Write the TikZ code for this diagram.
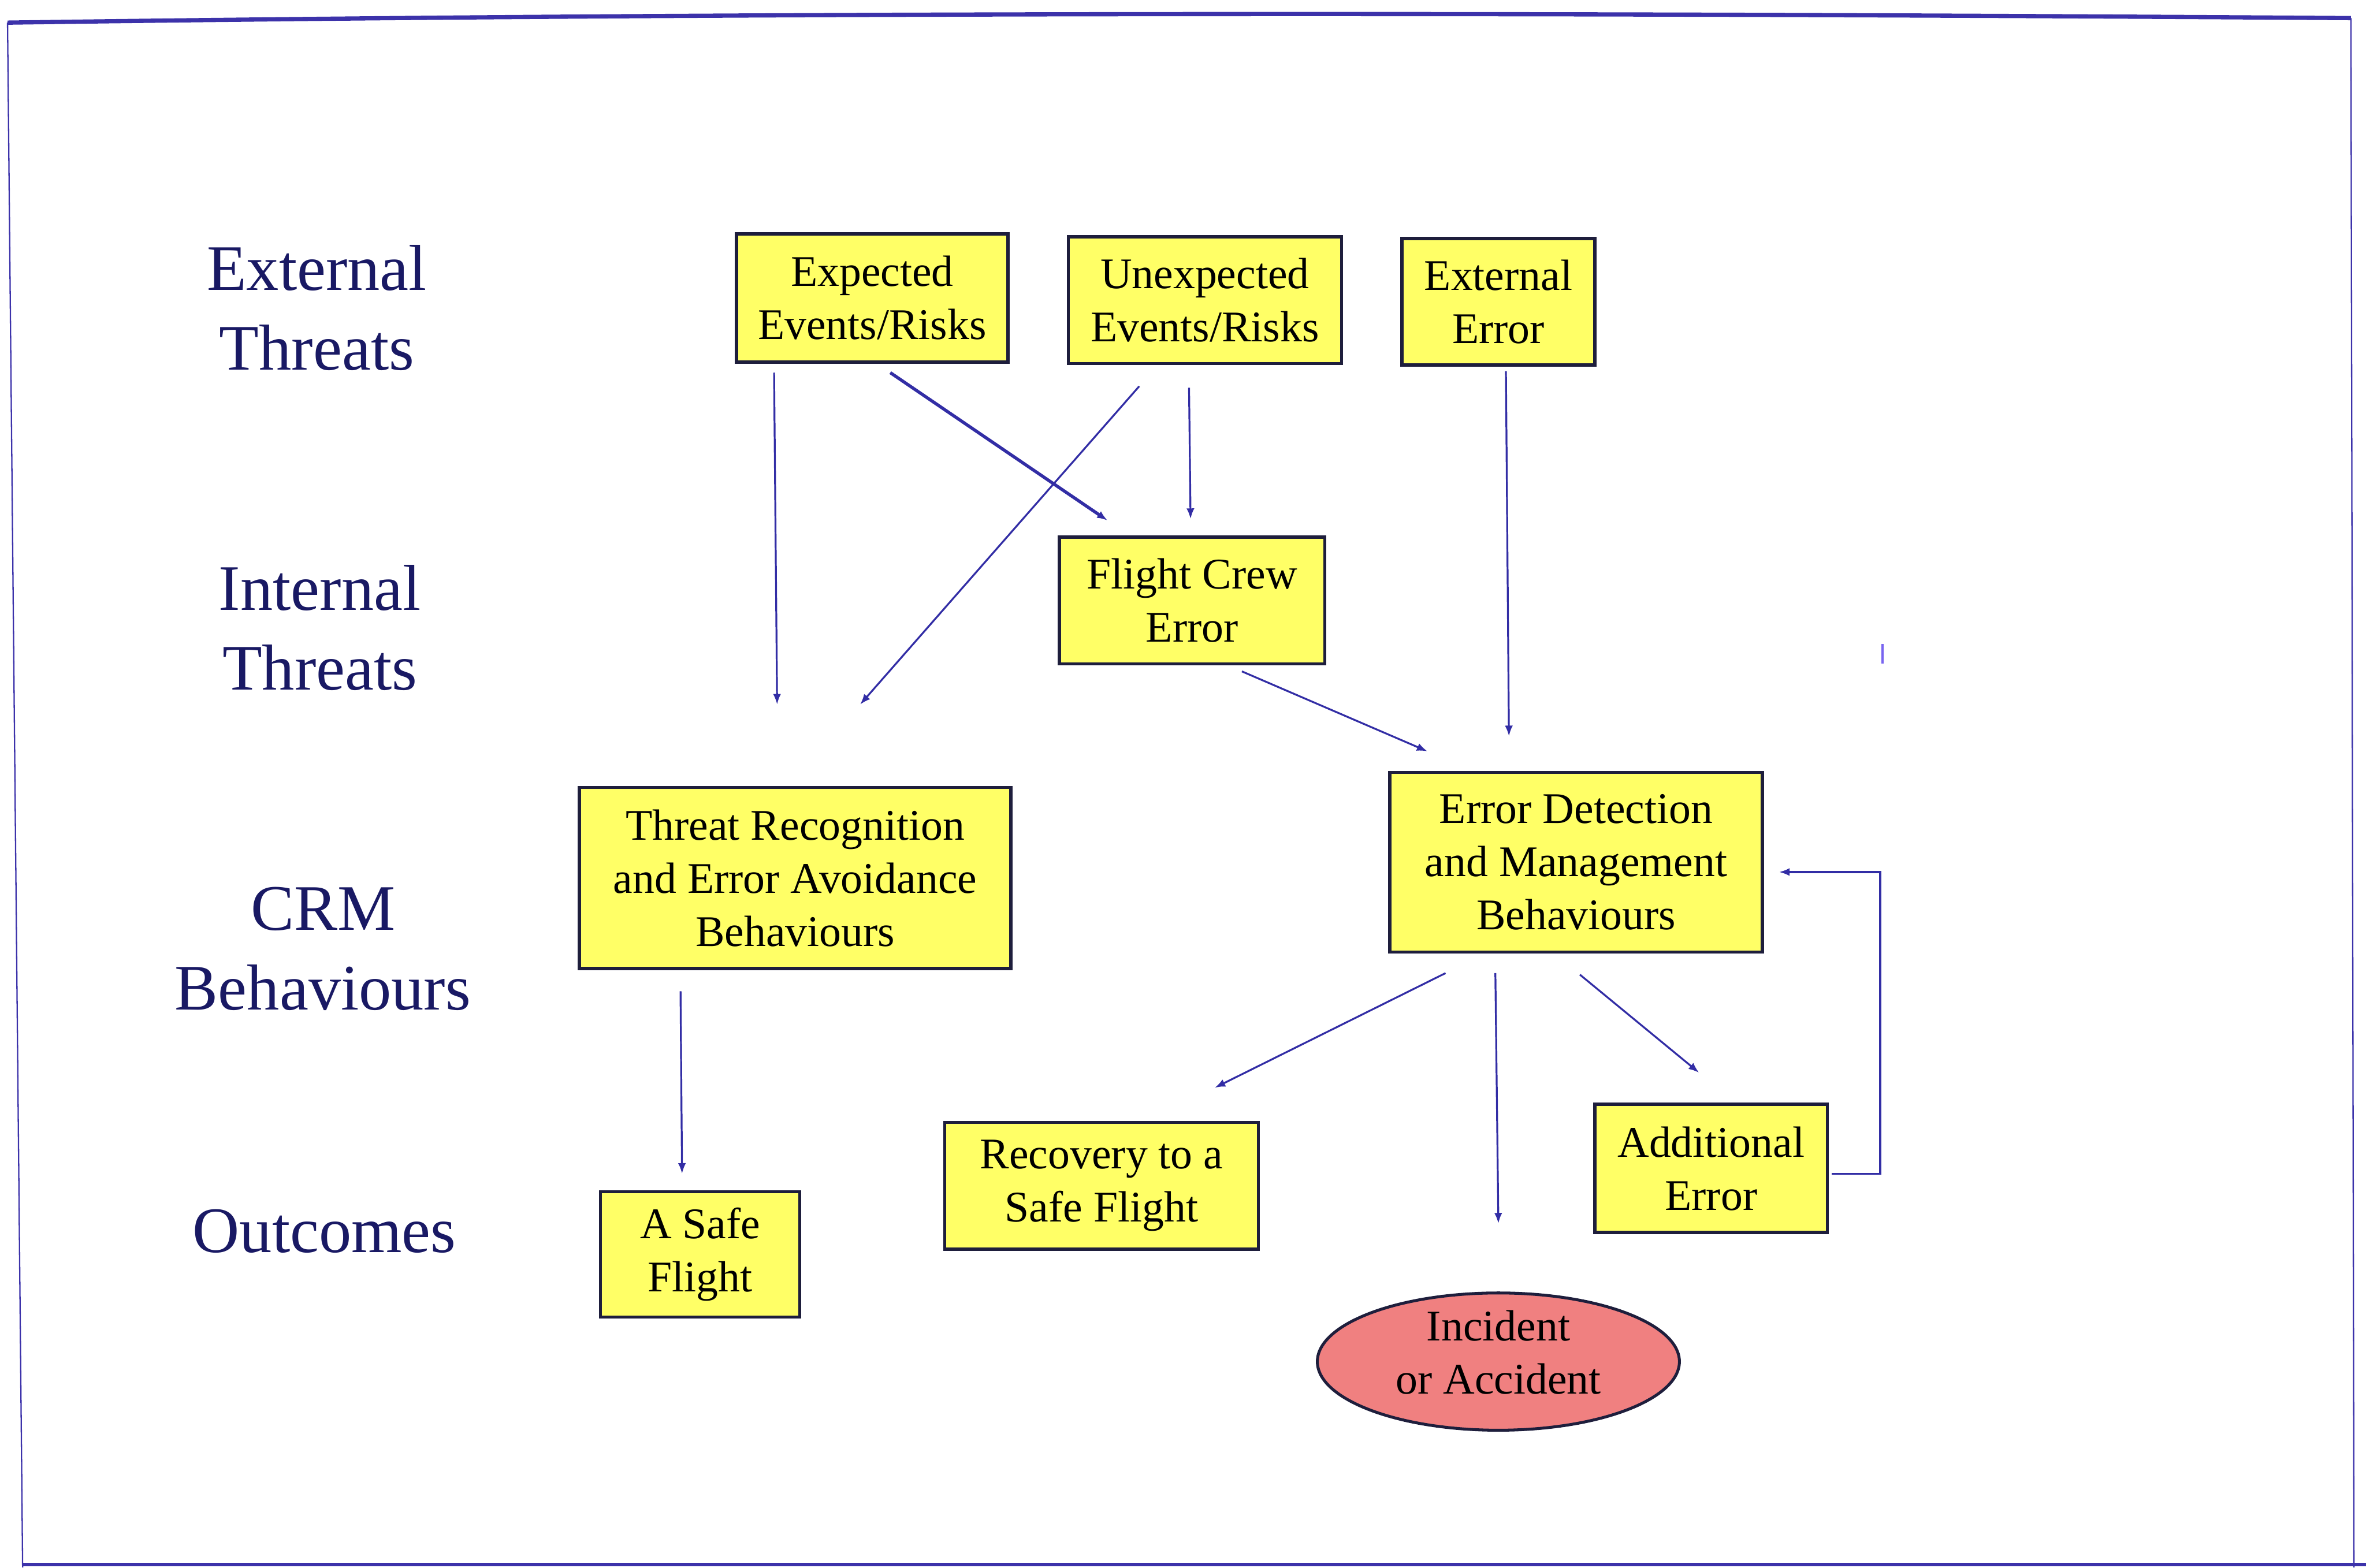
\documentclass[tikz,border=0pt]{standalone}
\usepackage{fontspec}
\setmainfont{Liberation Serif}
\usetikzlibrary{arrows.meta,shapes.geometric}
\definecolor{boxfill}{RGB}{255,255,102}
\definecolor{ovalfill}{RGB}{240,128,128}
\definecolor{linkblue}{RGB}{50,45,165}
\definecolor{labelnavy}{RGB}{25,25,100}
\definecolor{edgedark}{RGB}{30,30,60}
\definecolor{framecol}{RGB}{60,50,170}
\definecolor{tickcol}{RGB}{120,100,240}

\begin{document}
\begin{tikzpicture}[x=0.02cm,y=-0.02cm,
  box/.style={draw=edgedark, line width=1.2pt, fill=boxfill, inner sep=0pt,
    align=center, font=\fontsize{16.5}{20}\selectfont},
  oval/.style={ellipse, draw=edgedark, line width=1.1pt, fill=ovalfill, inner sep=0pt},
  ovaltext/.style={align=center, inner sep=0pt, font=\fontsize{16.5}{20}\selectfont},
  rowlabel/.style={align=center, text=labelnavy, font=\fontsize{24.5}{30}\selectfont},
  link/.style={draw=linkblue, line width=0.7pt, -{Latex[length=4pt,width=3pt]}},
  boldlink/.style={link, line width=1.2pt},
]
\useasboundingbox (0,0) rectangle (1568,1039);

% page frame
\draw[framecol, line width=1.6pt] (5,15) .. controls (500,8) and (1000,8) .. (1558,12);
\draw[framecol, line width=0.5pt] (5,15) -- (15,1039);
\draw[framecol, line width=0.5pt] (1558,12) -- (1560,1039);
\draw[framecol, line width=1.4pt] (15,1037) -- (1568,1037);

% row labels
\node[rowlabel] (lblext) at (210,204) {External\\Threats};
\node[rowlabel] (lblint) at (212,416) {Internal\\Threats};
\node[rowlabel] (lblcrm) at (214,629) {CRM\\Behaviours};
\node[rowlabel] (lblout) at (215,816) {Outcomes};

% boxes
\node[box, minimum width=3.6cm,  minimum height=1.7cm]  (exp)    at (578,197.5)  {Expected\\Events/Risks};
\node[box, minimum width=3.62cm, minimum height=1.68cm] (unexp)  at (798.5,199)  {Unexpected\\Events/Risks};
\node[box, minimum width=2.56cm, minimum height=1.68cm] (exterr) at (993,200)    {External\\Error};
\node[box, minimum width=3.52cm, minimum height=1.68cm] (fce)    at (790,398)    {Flight Crew\\Error};
\node[box, minimum width=5.72cm, minimum height=2.4cm]  (threat) at (527,582)    {Threat Recognition\\and Error Avoidance\\Behaviours};
\node[box, minimum width=4.94cm, minimum height=2.38cm] (errdet) at (1044.5,571.5) {Error Detection\\and Management\\Behaviours};
\node[box, minimum width=2.64cm, minimum height=1.66cm] (safe)   at (464,831.5)  {A Safe\\Flight};
\node[box, minimum width=4.16cm, minimum height=1.68cm] (recov)  at (730,786)    {Recovery to a\\Safe Flight};
\node[box, minimum width=3.08cm, minimum height=1.7cm]  (addl)   at (1134,774.5) {Additional\\Error};
\node[oval, minimum width=4.8cm, minimum height=1.82cm,
      label={[ovaltext, yshift=0.12cm]center:Incident\\or Accident}] (inc) at (993,902.5) {};

% connector end points
\coordinate (a1s) at (513,247);  \coordinate (a1e) at (515,467);
\coordinate (a2s) at (590,247);  \coordinate (a2e) at (734,345);
\coordinate (a3s) at (755,256);  \coordinate (a3e) at (570,467);
\coordinate (a4s) at (788,257);  \coordinate (a4e) at (789,344);
\coordinate (a5s) at (998,246);  \coordinate (a5e) at (1000,488);
\coordinate (a6s) at (823,445);  \coordinate (a6e) at (946,498);
\coordinate (a7s) at (451,657);  \coordinate (a7e) at (452,778);
\coordinate (a8s) at (958,645);  \coordinate (a8e) at (805,721);
\coordinate (a9s) at (991,645);  \coordinate (a9e) at (993,811);
\coordinate (a10s) at (1047,646); \coordinate (a10e) at (1126,711);
\coordinate (lp1) at (1214,778); \coordinate (lp2) at (1246,578); \coordinate (lp3) at (1179,578);

% connectors
\draw[link] (a1s) -- (a1e);
\draw[boldlink] (a2s) -- (a2e);
\draw[link] (a3s) -- (a3e);
\draw[link] (a4s) -- (a4e);
\draw[link] (a5s) -- (a5e);
\draw[link] (a6s) -- (a6e);
\draw[link] (a7s) -- (a7e);
\draw[link] (a8s) -- (a8e);
\draw[link] (a9s) -- (a9e);
\draw[link] (a10s) -- (a10e);
\draw[link] (lp1) -| (lp2) -- (lp3);

% small stray tick
\draw[tickcol, line width=1pt] (1247.5,427) -- (1247.5,440);
\end{tikzpicture}
\end{document}
